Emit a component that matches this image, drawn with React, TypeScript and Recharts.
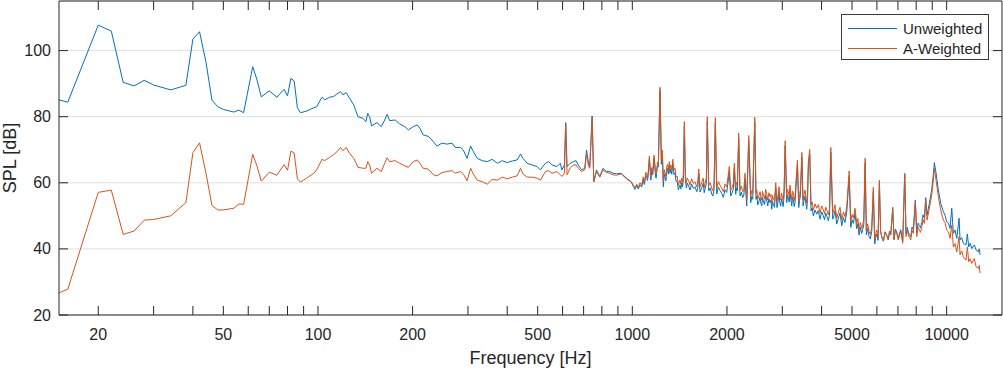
import React from 'react';
import { LineChart, Line, XAxis, YAxis, CartesianGrid, Legend } from 'recharts';

// ---- spectrum values (Hz / dB) ----

// 15 - 88 Hz
const lowFreq = [
  15, 16, 20, 22, 24, 26, 28, 30, 34, 38,
  40, 42, 44, 46, 48, 50, 54, 56, 58, 62,
  64, 66, 70, 74, 78, 80, 82, 84, 86, 88,
];
const lowUnweighted = [
  85.1, 84.4, 107.7, 105.9, 90.4, 89.3, 91.0, 89.6, 88.1, 89.5,
  103.5, 105.7, 96.6, 85.0, 83.0, 82.2, 81.4, 82.0, 81.2, 95.1,
  91.1, 86.0, 87.8, 85.9, 88.3, 86.3, 91.6, 90.8, 82.7, 81.2,
];
const lowAWeighted = [
  26.7, 27.8, 57.1, 57.8, 44.4, 45.4, 48.7, 48.9, 50.0, 54.0,
  69.1, 72.1, 63.0, 53.1, 51.8, 51.8, 52.3, 53.6, 53.5, 68.6,
  65.0, 60.5, 63.2, 62.3, 65.5, 63.8, 69.6, 69.0, 61.2, 60.2,
];

// 92 - 993 Hz
const midFreq = [
  92, 97, 99, 103, 105, 109, 112, 115, 118, 120,
  123, 126, 130, 134, 139, 142, 144, 146, 148, 154,
  159, 163, 166, 169, 176, 182, 189, 194, 201, 207,
  211, 216, 225, 233, 239, 248, 257, 267, 273, 284,
  290, 298, 306, 311, 321, 333, 346, 358, 372, 386,
  400, 415, 430, 441, 449, 463, 480, 498, 510, 529,
  542, 555, 576, 590, 597, 608, 614, 620, 634, 649,
  662, 673, 690, 706, 715, 724, 732, 745, 754, 769,
  788, 807, 827, 848, 869, 890, 923, 957, 993,
];
const midUnweighted = [
  81.7, 82.7, 83.0, 85.9, 85.1, 85.9, 86.1, 86.9, 87.6, 86.6,
  87.3, 85.6, 83.5, 80.0, 79.5, 78.5, 81.0, 80.0, 77.2, 78.2,
  77.0, 79.0, 80.7, 78.8, 79.0, 77.8, 77.0, 76.0, 77.0, 77.5,
  76.5, 74.5, 74.0, 72.4, 71.1, 72.0, 71.7, 72.0, 70.7, 70.7,
  69.9, 67.4, 71.1, 69.7, 67.4, 66.7, 66.4, 67.1, 65.9, 66.7,
  66.1, 66.6, 66.9, 68.7, 67.4, 65.9, 65.4, 64.9, 63.9, 65.9,
  66.4, 65.4, 64.9, 65.9, 63.9, 65.4, 78.2, 64.9, 65.9, 66.4,
  66.7, 65.4, 63.9, 64.4, 69.9, 66.4, 64.9, 80.2, 60.3, 63.9,
  61.9, 64.4, 63.4, 63.4, 62.9, 62.7, 62.9, 61.4, 60.3,
];
const midAWeighted = [
  61.4, 62.9, 63.9, 67.1, 66.7, 67.7, 68.5, 69.4, 70.7, 69.7,
  70.7, 68.9, 67.4, 64.7, 64.4, 64.4, 66.4, 65.4, 62.9, 64.4,
  63.4, 65.9, 67.6, 66.4, 66.7, 65.9, 65.1, 64.7, 66.4, 66.9,
  65.9, 64.4, 64.1, 62.4, 62.1, 63.1, 63.4, 63.7, 62.9, 63.4,
  62.7, 60.6, 64.4, 62.9, 60.8, 60.3, 59.6, 61.0, 60.8, 61.7,
  61.2, 61.7, 62.1, 64.4, 62.7, 61.7, 61.7, 61.4, 60.8, 63.4,
  63.7, 62.9, 63.4, 62.4, 61.9, 62.9, 77.5, 62.4, 64.4, 65.4,
  65.4, 64.4, 63.4, 63.9, 68.9, 65.4, 64.4, 79.5, 60.3, 63.4,
  61.7, 63.9, 63.1, 62.9, 62.4, 62.3, 62.7, 61.2, 60.2,
];

// 1007 - 6110 Hz
const highFreq = [
  1007, 1020, 1033, 1045, 1058, 1071, 1084, 1091, 1098, 1104,
  1111, 1118, 1125, 1133, 1145, 1153, 1161, 1173, 1184, 1190,
  1196, 1203, 1210, 1225, 1237, 1246, 1255, 1263, 1271, 1279,
  1287, 1295, 1302, 1311, 1318, 1325, 1335, 1345, 1357, 1367,
  1377, 1389, 1401, 1418, 1427, 1436, 1445, 1453, 1464, 1475,
  1486, 1496, 1511, 1526, 1545, 1564, 1583, 1603, 1615, 1627,
  1642, 1662, 1682, 1693, 1704, 1720, 1732, 1750, 1770, 1789,
  1805, 1820, 1837, 1856, 1878, 1901, 1924, 1948, 1972, 1997,
  2035, 2056, 2076, 2096, 2111, 2133, 2145, 2158, 2180, 2201,
  2223, 2245, 2264, 2283, 2312, 2346, 2381, 2398, 2416, 2452,
  2475, 2490, 2506, 2527, 2549, 2565, 2581, 2596, 2611, 2634,
  2657, 2677, 2697, 2720, 2742, 2760, 2777, 2793, 2809, 2834,
  2859, 2887, 2908, 2929, 2948, 2966, 2984, 3001, 3020, 3039,
  3064, 3099, 3117, 3136, 3155, 3175, 3195, 3215, 3234, 3253,
  3273, 3293, 3352, 3384, 3404, 3424, 3463, 3492, 3518, 3544,
  3566, 3588, 3610, 3631, 3668, 3703, 3734, 3766, 3813, 3861,
  3908, 3956, 4004, 4053, 4088, 4124, 4163, 4203, 4240, 4280,
  4341, 4378, 4415, 4470, 4524, 4579, 4637, 4693, 4750, 4810,
  4897, 4953, 5000, 5048, 5111, 5175, 5219, 5263, 5315, 5368,
  5408, 5448, 5505, 5553, 5608, 5663, 5719, 5776, 5845, 5905,
  5948, 5992, 6050, 6110,
];
const highUnweighted = [
  58.9, 58.0, 59.2, 58.1, 59.4, 58.7, 61.1, 59.5, 60.6, 62.2,
  61.6, 60.7, 63.0, 67.2, 60.8, 63.6, 62.4, 67.5, 62.8, 61.4,
  63.3, 65.0, 64.8, 87.8, 65.6, 68.7, 58.8, 62.6, 61.7, 60.6,
  63.7, 64.3, 62.6, 65.2, 62.9, 64.1, 62.6, 65.8, 62.5, 63.0,
  60.5, 60.5, 57.9, 59.4, 58.1, 60.0, 58.8, 61.0, 77.2, 61.0,
  58.5, 59.9, 59.0, 57.8, 59.6, 58.3, 58.8, 57.3, 58.5, 62.8,
  57.2, 58.4, 59.9, 57.0, 58.2, 59.8, 78.6, 57.6, 58.4, 56.6,
  56.0, 58.2, 78.2, 56.6, 58.7, 57.7, 56.8, 55.6, 57.9, 57.1,
  63.2, 56.0, 56.9, 58.1, 64.3, 56.5, 58.5, 57.6, 73.5, 56.0,
  57.2, 55.5, 56.3, 61.2, 53.0, 72.8, 54.0, 55.8, 55.0, 78.3,
  55.0, 56.0, 53.3, 54.2, 55.6, 53.8, 53.0, 55.6, 54.5, 53.4,
  56.3, 54.8, 53.0, 55.2, 54.0, 54.7, 52.0, 54.4, 53.5, 52.6,
  58.4, 52.5, 54.4, 57.1, 53.8, 53.0, 55.1, 54.0, 52.8, 56.0,
  71.2, 54.0, 56.2, 55.5, 54.2, 57.6, 54.9, 53.0, 55.7, 55.0,
  52.8, 54.0, 65.4, 52.5, 54.6, 56.0, 67.7, 53.0, 54.6, 56.0,
  53.8, 52.0, 55.2, 64.8, 68.6, 51.5, 52.4, 50.0, 51.8, 50.5,
  51.6, 49.0, 51.2, 50.0, 48.8, 50.8, 49.8, 48.5, 50.2, 69.2,
  49.0, 50.0, 51.6, 47.5, 49.3, 50.9, 47.0, 49.5, 48.0, 51.1,
  62.0, 46.5, 48.8, 47.7, 50.7, 46.1, 47.7, 44.2, 46.5, 44.7,
  45.9, 47.2, 66.0, 44.3, 46.2, 43.8, 43.0, 45.3, 57.3, 41.5,
  43.4, 44.5, 42.6, 60.0,
];
const highAWeighted = [
  59.3, 58.5, 59.6, 58.6, 60.0, 59.3, 61.8, 60.4, 61.4, 63.2,
  62.4, 61.6, 63.9, 68.1, 61.8, 64.6, 63.4, 68.4, 63.9, 62.6,
  64.4, 66.3, 65.9, 88.9, 66.9, 69.9, 60.3, 64.0, 62.9, 62.0,
  64.9, 65.6, 63.9, 66.4, 64.2, 65.4, 64.0, 67.1, 63.9, 64.4,
  61.8, 62.0, 59.3, 60.8, 59.6, 61.4, 60.2, 62.4, 78.5, 62.4,
  60.0, 61.4, 60.6, 59.3, 61.2, 59.8, 60.3, 58.8, 60.0, 64.2,
  58.8, 60.0, 61.4, 58.6, 59.8, 61.4, 80.0, 59.3, 60.0, 58.3,
  57.6, 59.8, 79.7, 58.3, 60.4, 59.3, 58.4, 57.3, 59.6, 58.8,
  64.9, 57.8, 58.6, 59.8, 65.9, 58.3, 60.2, 59.3, 75.0, 57.8,
  59.0, 57.3, 58.0, 62.9, 54.8, 74.3, 55.8, 57.6, 56.8, 79.8,
  56.8, 57.8, 55.0, 56.0, 57.3, 55.6, 54.8, 57.4, 56.3, 55.2,
  58.0, 56.6, 54.8, 57.0, 55.8, 56.5, 53.8, 56.2, 55.3, 54.4,
  60.0, 54.3, 56.2, 58.8, 55.6, 54.8, 56.9, 55.8, 54.6, 57.8,
  72.7, 55.8, 58.0, 57.3, 56.0, 59.3, 56.7, 54.8, 57.5, 56.8,
  54.6, 55.8, 66.9, 54.3, 56.4, 57.8, 69.2, 54.8, 56.4, 57.8,
  55.6, 53.8, 57.0, 66.4, 70.1, 53.3, 54.2, 51.8, 53.6, 52.3,
  53.4, 50.8, 53.0, 51.8, 50.6, 52.6, 51.6, 50.3, 52.0, 70.7,
  50.8, 51.8, 53.3, 49.3, 51.0, 52.6, 48.7, 51.2, 49.7, 52.8,
  63.6, 48.2, 50.4, 49.3, 52.3, 47.7, 49.2, 45.7, 48.0, 46.2,
  47.4, 48.7, 67.4, 45.7, 47.6, 45.2, 44.4, 46.7, 58.6, 42.7,
  44.6, 45.7, 43.7, 60.8,
];

// 6163 - 12772 Hz
const topFreq = [
  6163, 6216, 6292, 6368, 6445, 6523, 6581, 6639, 6737, 6801,
  6869, 6937, 7019, 7081, 7143, 7196, 7249, 7356, 7427, 7490,
  7553, 7620, 7687, 7760, 7835, 7951, 8033, 8110, 8187, 8260,
  8333, 8412, 8493, 8580, 8662, 8810, 8966, 9072, 9139, 9254,
  9410, 9577, 9761, 9880, 10007, 10130, 10252, 10381, 10504, 10636,
  10769, 10952, 11032, 11165, 11302, 11528, 11638, 11758, 11888, 12019,
  12250, 12404, 12614, 12700, 12772,
];
const topUnweighted = [
  45.4, 43.6, 42.3, 45.1, 44.1, 42.8, 45.4, 44.3, 52.0, 43.0,
  46.0, 45.1, 43.2, 44.7, 45.8, 44.2, 42.4, 62.5, 44.5, 46.5,
  45.1, 44.3, 43.6, 46.6, 45.8, 54.8, 45.0, 47.8, 47.0, 46.4,
  48.0, 50.3, 49.3, 55.5, 50.2, 53.8, 58.0, 62.5, 66.1, 62.9,
  57.8, 53.8, 51.3, 50.2, 48.2, 47.8, 46.2, 52.3, 44.7, 45.7,
  43.2, 49.3, 42.7, 43.4, 41.7, 41.2, 44.5, 40.6, 41.7, 40.1,
  41.2, 39.7, 39.1, 40.0, 38.2,
];
const topAWeighted = [
  45.6, 43.7, 42.4, 45.2, 44.2, 42.7, 45.4, 44.2, 52.6, 42.7,
  45.8, 44.7, 42.7, 44.2, 45.2, 43.6, 41.7, 62.9, 43.7, 45.8,
  44.2, 43.4, 42.7, 45.6, 44.7, 54.3, 43.7, 46.6, 45.7, 45.0,
  46.7, 48.9, 47.7, 54.8, 48.7, 52.3, 56.3, 60.8, 64.4, 60.8,
  55.8, 51.8, 48.7, 48.0, 45.7, 45.2, 43.2, 47.2, 40.6, 41.6,
  39.1, 43.7, 38.2, 39.4, 37.6, 36.6, 40.6, 36.1, 37.0, 35.6,
  37.1, 34.6, 34.1, 35.0, 32.6,
];

const majorTicks = [20, 50, 100, 200, 500, 1000, 2000, 5000, 10000];
const minorTicks = [30, 40, 60, 70, 80, 90, 300, 400, 600, 700, 800, 900, 3000, 4000, 6000, 7000, 8000, 9000];
const yTicks = [20, 40, 60, 80, 100];
const seriesNames = ['Unweighted', 'A-Weighted'];

// ---- chart table ----
const freq = [...lowFreq, ...midFreq, ...highFreq, ...topFreq];
const unweighted = [...lowUnweighted, ...midUnweighted, ...highUnweighted, ...topUnweighted];
const aWeighted = [...lowAWeighted, ...midAWeighted, ...highAWeighted, ...topAWeighted];
const rows = freq.map((f, i) => ({ f, uw: unweighted[i], aw: aWeighted[i] }));

const allTicks = [...majorTicks, ...minorTicks].sort((a, b) => a - b);

const FONT = '"Liberation Sans", Arial, Helvetica, sans-serif';
const AXIS = '#262626';
const TEXT = '#262626';
const BLUE = '#0072BD';
const ORANGE = '#D95319';
const seriesColors = [BLUE, ORANGE];
const TICK_LEN = 9;

const gridAt = (values: number[]) => ({ xAxis }: any) => {
  const s = xAxis?.scale;
  return typeof s === 'function' ? values.map((v) => s(v)) : [];
};

const BottomTick = ({ x, y, payload }: any) => (
  <g>
    <line x1={x} x2={x} y1={y} y2={y - TICK_LEN} stroke={AXIS} />
    {majorTicks.includes(payload.value) && (
      <text x={x} y={y + 19} textAnchor="middle" dominantBaseline="central" fill={TEXT} fontSize={16} fontFamily={FONT}>
        {payload.value}
      </text>
    )}
  </g>
);

const TopTick = ({ x, y }: any) => <line x1={x} x2={x} y1={y} y2={y + TICK_LEN} stroke={AXIS} />;

const LeftTick = ({ x, y, payload }: any) => (
  <g>
    <line x1={x} x2={x + TICK_LEN} y1={y} y2={y} stroke={AXIS} />
    <text x={x - 8} y={y} textAnchor="end" dominantBaseline="central" fill={TEXT} fontSize={16} fontFamily={FONT}>
      {payload.value}
    </text>
  </g>
);

const RightTick = ({ x, y }: any) => <line x1={x} x2={x - TICK_LEN} y1={y} y2={y} stroke={AXIS} />;

const XLabel = ({ viewBox }: any) => (
  <text x={viewBox.x + viewBox.width / 2} y={viewBox.y + 43} textAnchor="middle" dominantBaseline="central" fill={TEXT} fontSize={18} fontFamily={FONT}>
    Frequency [Hz]
  </text>
);

const YLabel = ({ viewBox }: any) => {
  const cx = viewBox.x + 10;
  const cy = viewBox.y + viewBox.height / 2;
  return (
    <text x={cx} y={cy} transform={`rotate(-90 ${cx} ${cy})`} textAnchor="middle" dominantBaseline="central" fill={TEXT} fontSize={18} fontFamily={FONT}>
      SPL [dB]
    </text>
  );
};

// legend drawn as a small svg box so the swatches stay on their own row
const LegendBox = () => (
  <svg width={148} height={46} style={{ display: 'block' }}>
    <rect x={0.5} y={0.5} width={147} height={45} fill="#fff" stroke="#3a3a3a" />
    {seriesNames.map((name, i) => {
      const cy = 14.5 + i * 20;
      return (
        <g key={name}>
          <line x1={7} x2={56} y1={cy} y2={cy} stroke={seriesColors[i]} strokeWidth={1} />
          <text x={62} y={cy} dominantBaseline="central" fill={TEXT} fontSize={15} fontFamily={FONT}>
            {name}
          </text>
        </g>
      );
    })}
  </svg>
);

export default function App() {
  return (
    <div style={{ width: 1003, height: 369, background: '#fff' }}>
      <style>{'body{margin:0}'}</style>
      <LineChart width={1003} height={369} data={rows} margin={{ top: 0, right: 0, bottom: 0, left: 0 }}>
        <CartesianGrid horizontal={false} stroke="#d6d6d6" strokeDasharray="2 2" verticalCoordinatesGenerator={gridAt(minorTicks)} />
        <CartesianGrid stroke="#e0e0e0" verticalCoordinatesGenerator={gridAt(majorTicks)} />
        <XAxis
          dataKey="f"
          type="number"
          scale="log"
          domain={[15, 15000]}
          allowDataOverflow
          ticks={allTicks}
          interval={0}
          height={54}
          tickSize={0}
          tickMargin={0}
          tickLine={false}
          tick={<BottomTick />}
          axisLine={{ stroke: AXIS }}
          label={<XLabel />}
        />
        <XAxis
          xAxisId="top"
          orientation="top"
          dataKey="f"
          type="number"
          scale="log"
          domain={[15, 15000]}
          allowDataOverflow
          ticks={allTicks}
          interval={0}
          height={1}
          tickSize={0}
          tickMargin={0}
          tickLine={false}
          tick={<TopTick />}
          axisLine={{ stroke: AXIS }}
        />
        <YAxis
          type="number"
          domain={[20, 115]}
          allowDataOverflow
          ticks={yTicks}
          interval={0}
          width={59}
          tickSize={0}
          tickMargin={0}
          tickLine={false}
          tick={<LeftTick />}
          axisLine={{ stroke: AXIS }}
          label={<YLabel />}
        />
        <YAxis
          yAxisId="right"
          orientation="right"
          type="number"
          domain={[20, 115]}
          allowDataOverflow
          ticks={yTicks}
          interval={0}
          width={1}
          tickSize={0}
          tickMargin={0}
          tickLine={false}
          tick={<RightTick />}
          axisLine={{ stroke: AXIS }}
        />
        <Legend
          layout="vertical"
          align="center"
          verticalAlign="middle"
          wrapperStyle={{ left: 841, top: 14, width: 148, height: 46 }}
          content={<LegendBox />}
        />
        <Line type="linear" dataKey="uw" name={seriesNames[0]} stroke={BLUE} strokeWidth={1} dot={false} activeDot={false} isAnimationActive={false} />
        <Line type="linear" dataKey="aw" name={seriesNames[1]} stroke={ORANGE} strokeWidth={1} dot={false} activeDot={false} isAnimationActive={false} />
      </LineChart>
    </div>
  );
}
